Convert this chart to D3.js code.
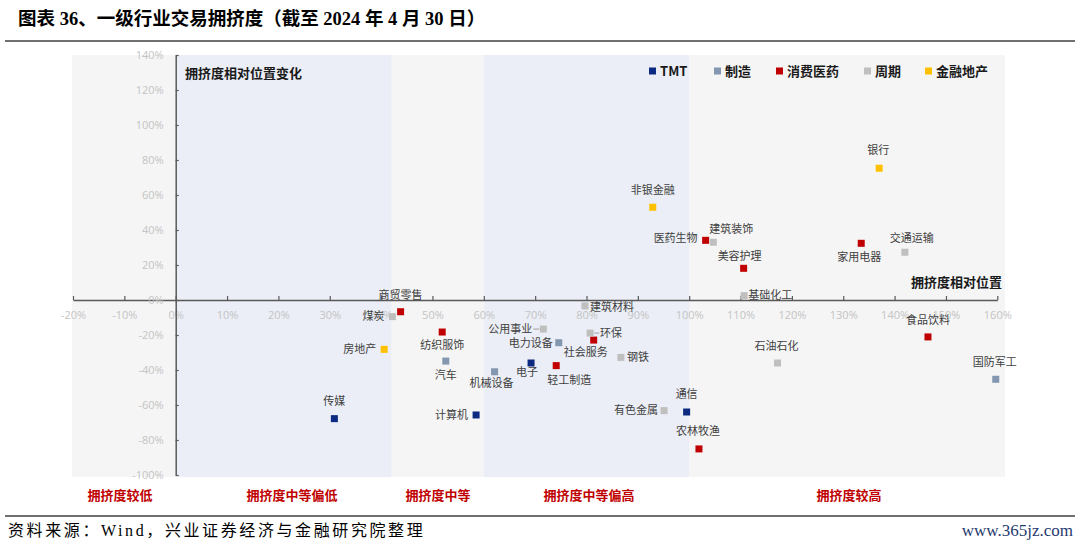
<!DOCTYPE html>
<html><head><meta charset="utf-8">
<script src="https://cdn.jsdelivr.net/npm/d3@7"></script>
<style>
html,body{margin:0;padding:0;background:#fff;}
svg text{font-family:"Noto Sans CJK SC","Noto Sans",sans-serif;}
</style></head>
<body><svg id="c" width="1080" height="546"></svg>
<script>
// ---- data ----
const industries = ["传媒","房地产","商贸零售","煤炭","纺织服饰","汽车","机械设备","电子","计算机","公用事业","电力设备","轻工制造","社会服务","环保","建筑材料","钢铁","有色金属","通信","农林牧渔","国防军工","食品饮料","石油石化","基础化工","美容护理","医药生物","建筑装饰","家用电器","交通运输","银行","非银金融"];
const relPosition = [30.9,40.6,43.8,42.2,51.9,52.6,62.1,69.2,58.5,71.6,74.6,74.1,81.4,80.7,79.7,86.7,95.1,99.5,101.9,159.7,146.5,117.2,110.7,110.6,103.2,104.7,133.5,142.0,137.0,92.9];
const relChange = [-67.8,-28.2,-6.7,-9.5,-18.3,-34.9,-41.0,-36.0,-65.7,-16.6,-24.4,-37.5,-22.9,-18.9,-3.4,-32.8,-63.2,-64.0,-85.1,-45.3,-21.1,-36.0,2.5,18.1,34.1,33.0,32.4,27.3,75.3,53.0];
const sectorOf = ["TMT","金融地产","消费医药","周期","消费医药","制造","制造","TMT","TMT","周期","制造","消费医药","消费医药","周期","周期","周期","周期","TMT","消费医药","制造","消费医药","周期","周期","消费医药","消费医药","周期","消费医药","周期","金融地产","金融地产"];
const sectors = ["TMT","制造","消费医药","周期","金融地产"];
const xTicks = [-20,-10,0,10,20,30,40,50,60,70,80,90,100,110,120,130,140,150,160];
const yTicks = [-100,-80,-60,-40,-20,0,20,40,60,80,100,120,140];
const zoneNames = ["拥挤度较低","拥挤度中等偏低","拥挤度中等","拥挤度中等偏高","拥挤度较高"];
const zoneFrom = [-20,0,42,60,100];
const zoneTo = [0,42,60,100,161.5];
const zoneShaded = [false,true,false,true,false];

// ---- styles / layout ----
const colors = {"TMT":"#0d2a82","制造":"#8497b0","消费医药":"#c00000","周期":"#bfbfbf","金融地产":"#ffc000"};
const zoneLabelX = [120,292,438,589,849];
// label placement: [dx, dy, anchor, leader]
const labelPlace = {
 "传媒":[0,-18,"middle"],"房地产":[-8,0,"end"],"商贸零售":[0,-17,"middle"],"煤炭":[-8,0,"end"],
 "纺织服饰":[0,13,"middle"],"汽车":[0,14,"middle"],"机械设备":[-3,11,"middle"],"电子":[-4,9,"middle"],
 "计算机":[-8,0,"end"],"公用事业":[-11,0,"end",true],"电力设备":[-6,0,"end"],"轻工制造":[13,15,"middle"],
 "社会服务":[-8,12,"middle"],"环保":[10,0,"start",true],"建筑材料":[5,1,"start"],"钢铁":[6,0,"start"],
 "有色金属":[-6,0,"end"],"通信":[0,-18,"middle"],"农林牧渔":[-1,-18,"middle"],"国防军工":[-1,-17,"middle"],
 "食品饮料":[0,-17,"middle"],"石油石化":[-1,-17,"middle"],"基础化工":[4,0,"start"],"美容护理":[-4,-12,"middle"],
 "医药生物":[-8,-2,"end"],"建筑装饰":[18,-13,"middle"],"家用电器":[-2,14,"middle"],"交通运输":[7,-14,"middle"],
 "银行":[-1,-18,"middle"],"非银金融":[0,-17,"middle"]
};

const svg = d3.select("#c");
const x = d3.scaleLinear().domain([-20,160]).range([73,997.3]);
const y = d3.scaleLinear().domain([-100,140]).range([475,55]);
const plotTop = 55, plotBottom = 477, plotRight = 1005;

// title
svg.append("text").attr("x",18).attr("y",25)
  .style("font-family","'Liberation Serif','Noto Sans CJK SC',serif")
  .style("font-weight","bold").style("font-size","18.5px").attr("fill","#000")
  .text("图表 36、一级行业交易拥挤度（截至 2024 年 4 月 30 日）");
svg.append("line").attr("x1",5).attr("x2",1075).attr("y1",41).attr("y2",41).attr("stroke","#404040").attr("stroke-width",1.5);

// background
svg.append("rect").attr("x",x(-20)-1).attr("y",plotTop).attr("width",plotRight-x(-20)+1).attr("height",plotBottom-plotTop).attr("fill","#f5f5f5");
const zones = zoneNames.map((n,i)=>({name:n,from:zoneFrom[i],to:zoneTo[i],shade:zoneShaded[i],lx:zoneLabelX[i]}));
svg.selectAll("rect.zone").data(zones.filter(z=>z.shade)).join("rect").attr("class","zone")
  .attr("x",d=>x(d.from)).attr("y",plotTop).attr("width",d=>x(d.to)-x(d.from)).attr("height",plotBottom-plotTop)
  .attr("fill","#ebeef6");

// axes
const xAxis = d3.axisBottom(x).tickValues(xTicks).tickFormat(d=>d+"%").tickSizeInner(-4).tickSizeOuter(0).tickPadding(11);
const gx = svg.append("g").attr("transform",`translate(0,${y(0)})`).call(xAxis);
const yAxis = d3.axisLeft(y).tickValues(yTicks).tickFormat(d=>d+"%").tickSizeInner(-3).tickSizeOuter(0).tickPadding(12);
const gy = svg.append("g").attr("transform",`translate(${x(0)},0)`).call(yAxis);
[gx,gy].forEach(g=>{
  g.select(".domain").attr("stroke","#595959").attr("stroke-width",1.5);
  g.selectAll(".tick line").attr("stroke","#595959").attr("stroke-width",1.2);
  g.selectAll(".tick text").attr("fill","#c4c4c4").style("font-size","11px").style("font-family","'Open Sans','Noto Sans',sans-serif");
});

// corner labels
svg.append("text").attr("x",185).attr("y",73).attr("dy","0.35em").style("font-size","13px").style("font-weight","bold").attr("fill","#1a1a1a").text("拥挤度相对位置变化");
svg.append("text").attr("x",1002).attr("y",282).attr("dy","0.35em").attr("text-anchor","end").style("font-size","13px").style("font-weight","bold").attr("fill","#1a1a1a").text("拥挤度相对位置");

// legend
const legendX = [649,714,776,864,925];
const lg = svg.selectAll("g.leg").data(sectors).join("g").attr("class","leg")
  .attr("transform",(d,i)=>`translate(${legendX[i]},71)`);
lg.append("rect").attr("x",0).attr("y",-3.5).attr("width",7).attr("height",7).attr("fill",d=>colors[d]);
lg.append("text").attr("x",11).attr("dy","0.35em").style("font-size","13px").style("font-weight","bold").attr("fill","#1a1a1a").text(d=>d);

// points
const pts = industries.map((n,i)=>({name:n,x:relPosition[i],y:relChange[i],s:sectorOf[i]}));
const gp = svg.append("g");
pts.filter(p=>labelPlace[p.name][3]).forEach(p=>{
  const L = labelPlace[p.name];
  const sx = x(p.x), sy = y(p.y);
  const dir = L[0] < 0 ? -1 : 1;
  gp.append("line").attr("x1",sx+dir*4).attr("x2",sx+L[0]-dir*1).attr("y1",sy).attr("y2",sy).attr("stroke","#a0a0a0").attr("stroke-width",1);
});
gp.selectAll("rect.pt").data(pts).join("rect").attr("class","pt")
  .attr("x",d=>x(d.x)-3.5).attr("y",d=>y(d.y)-3.5).attr("width",7).attr("height",7)
  .attr("fill",d=>colors[d.s]);
gp.selectAll("text.lb").data(pts).join("text").attr("class","lb")
  .attr("x",d=>x(d.x)+labelPlace[d.name][0]).attr("y",d=>y(d.y)+labelPlace[d.name][1])
  .attr("dy","0.35em").attr("text-anchor",d=>labelPlace[d.name][2])
  .style("font-size","11px").attr("fill","#404040").text(d=>d.name);

// zone labels
svg.selectAll("text.zl").data(zones).join("text").attr("class","zl")
  .attr("x",d=>d.lx).attr("y",495).attr("dy","0.35em")
  .attr("text-anchor","middle").style("font-size","13px").style("font-weight","bold").attr("fill","#c00000").text(d=>d.name);

// footer
svg.append("line").attr("x1",5).attr("x2",1075).attr("y1",516).attr("y2",516).attr("stroke","#404040").attr("stroke-width",1.5);
svg.append("text").attr("x",8).attr("y",536)
  .style("font-family","'Liberation Serif','Noto Sans CJK SC',serif").style("font-size","16px").style("letter-spacing","2.6px").attr("fill","#000")
  .text("资料来源：Wind，兴业证券经济与金融研究院整理");
svg.append("text").attr("x",1073).attr("y",536).attr("text-anchor","end")
  .style("font-family","'Liberation Serif',serif").style("font-size","17px").attr("fill","#1f3a6e")
  .text("www.365jz.com");
</script></body></html>
